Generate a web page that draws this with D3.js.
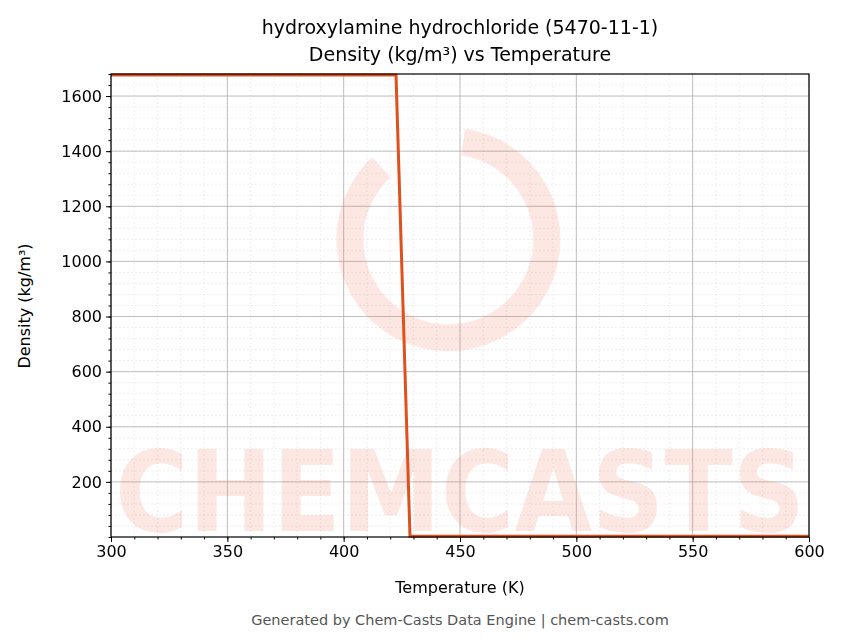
<!DOCTYPE html>
<html><head><meta charset="utf-8">
<script src="https://cdn.jsdelivr.net/npm/d3@7"></script>
<style>body{margin:0;background:#fff}text{font-family:"DejaVu Sans",sans-serif}</style>
</head><body>
<svg id="chart" width="843" height="644"></svg>
<script>
// data
var temps = [300, 422.5, 428.5, 600];
var density = [1676, 1676, 3, 3];
var xTicks = [300, 350, 400, 450, 500, 550, 600];
var yTicks = [200, 400, 600, 800, 1000, 1200, 1400, 1600];

var margin = {top: 74, right: 34, bottom: 107, left: 111},
    width = 843 - margin.left - margin.right,
    height = 644 - margin.top - margin.bottom;

var svg = d3.select("#chart");
var g = svg.append("g").attr("transform", "translate(" + margin.left + "," + margin.top + ")");

var x = d3.scaleLinear().domain([300, 600]).range([0, width]);
var y = d3.scaleLinear().domain([0, 1680]).range([height, 0]);

// minor grid
var xMinor = d3.range(300, 601, 10), yMinor = d3.range(0, 1681, 40);
g.append("g").selectAll("line").data(xMinor).enter().append("line")
  .attr("x1", d => x(d)).attr("x2", d => x(d)).attr("y1", 0).attr("y2", height)
  .attr("stroke", "#ddd").attr("stroke-width", 0.5).attr("stroke-dasharray", "2,2");
g.append("g").selectAll("line").data(yMinor).enter().append("line")
  .attr("y1", d => y(d)).attr("y2", d => y(d)).attr("x1", 0).attr("x2", width)
  .attr("stroke", "#ddd").attr("stroke-width", 0.5).attr("stroke-dasharray", "2,2");
// major grid
g.append("g").selectAll("line").data(xTicks).enter().append("line")
  .attr("x1", d => x(d)).attr("x2", d => x(d)).attr("y1", 0).attr("y2", height)
  .attr("stroke", "#b0b0b0").attr("stroke-width", 0.8);
g.append("g").selectAll("line").data(yTicks).enter().append("line")
  .attr("y1", d => y(d)).attr("y2", d => y(d)).attr("x1", 0).attr("x2", width)
  .attr("stroke", "#b0b0b0").attr("stroke-width", 0.8);

// watermark
var wm = g.append("g").attr("opacity", 0.18);
wm.append("path")
  .attr("d", d3.arc().innerRadius(85).outerRadius(112).startAngle(0.5).endAngle(2 * Math.PI - 0.4)())
  .attr("transform", "translate(" + (x(445)) + "," + (y(1080)) + ") rotate(-20)")
  .attr("fill", "#f47a60");
wm.append("text").attr("x", width / 2).attr("y", y(20))
  .attr("text-anchor", "middle").attr("font-size", 112).attr("font-weight", "bold")
  .attr("textLength", width - 8).attr("lengthAdjust", "spacingAndGlyphs")
  .attr("fill", "#f47a60").text("CHEMCASTS");

// line
var line = d3.line().x((d, i) => x(temps[i])).y(d => y(d));
g.append("path").datum(density).attr("d", line)
  .attr("fill", "none").attr("stroke", "#e0501e").attr("stroke-width", 3);

// axes
var xa = g.append("g").attr("transform", "translate(0," + height + ")")
  .call(d3.axisBottom(x).tickValues(xTicks).tickSize(5).tickPadding(4).tickFormat(d3.format("d")));
xa.append("g").call(d3.axisBottom(x).tickValues(xMinor).tickSize(2.5).tickFormat(""))
  .selectAll("text").remove();
var ya = g.append("g").call(d3.axisLeft(y).tickValues(yTicks).tickSize(5).tickPadding(4).tickFormat(d3.format("d")));
ya.append("g").call(d3.axisLeft(y).tickValues(yMinor).tickSize(2.5).tickFormat(""))
  .selectAll("text").remove();
g.selectAll(".tick text").attr("font-size", 16).attr("fill", "#000");
g.selectAll(".domain").remove();
g.append("rect").attr("width", width).attr("height", height)
  .attr("fill", "none").attr("stroke", "#000").attr("stroke-width", 1.2);

// labels
svg.append("text").attr("x", 460).attr("y", 34).attr("text-anchor", "middle")
  .attr("font-size", 19).text("hydroxylamine hydrochloride (5470-11-1)");
svg.append("text").attr("x", 460).attr("y", 61).attr("text-anchor", "middle")
  .attr("font-size", 19).text("Density (kg/m³) vs Temperature");
svg.append("text").attr("x", 460).attr("y", 593).attr("text-anchor", "middle")
  .attr("font-size", 16).text("Temperature (K)");
svg.append("text").attr("transform", "translate(30,306) rotate(-90)").attr("text-anchor", "middle")
  .attr("font-size", 16).text("Density (kg/m³)");
svg.append("text").attr("x", 460).attr("y", 625).attr("text-anchor", "middle")
  .attr("font-size", 14.5).attr("fill", "#555").text("Generated by Chem-Casts Data Engine | chem-casts.com");
</script>
</body></html>
